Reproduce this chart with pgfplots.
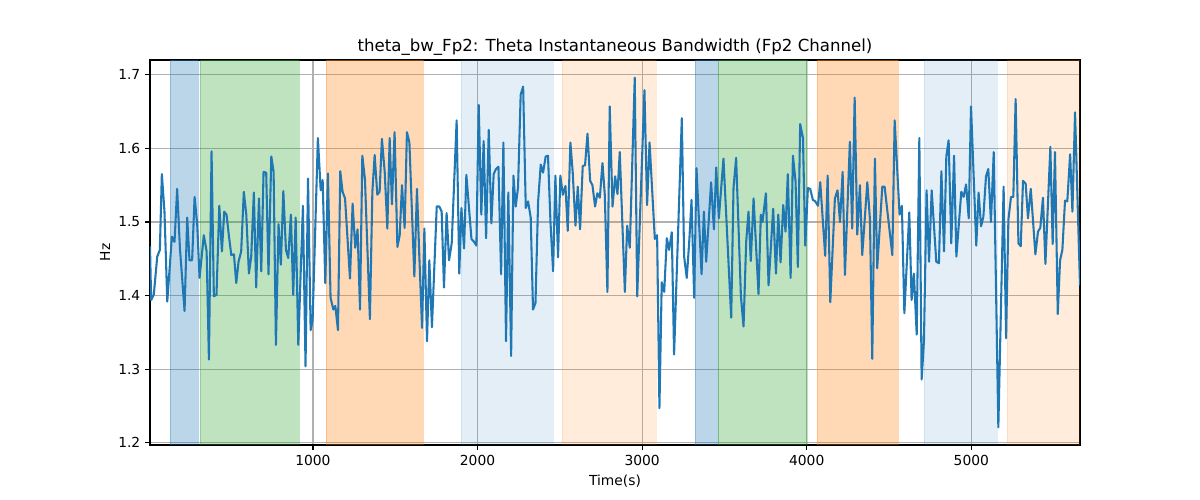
\documentclass[border=0pt]{standalone}
\usepackage{fontspec}
\setmainfont{DejaVu Sans}
\usepackage{pgfplots}
\usepackage{pgfplotstable}
\pgfplotsset{compat=1.18}
\definecolor{tabblue}{HTML}{1F77B4}
\definecolor{tabgreen}{HTML}{2CA02C}
\definecolor{taborange}{HTML}{FF7F0E}
\definecolor{gridgray}{HTML}{B0B0B0}
\pgfplotstableread{
t v
10 1.467
17 1.394
33 1.401
54 1.453
70 1.462
82 1.565
98 1.514
115 1.392
143 1.480
151 1.476
159 1.473
175 1.545
192 1.464
220 1.379
236 1.506
250 1.448
266 1.448
281 1.534
297 1.496
311 1.424
337 1.482
354 1.460
368 1.313
384 1.596
398 1.399
414 1.401
431 1.522
447 1.460
461 1.514
475 1.510
489 1.482
504 1.455
520 1.456
534 1.417
548 1.446
564 1.460
580 1.541
595 1.510
611 1.430
625 1.453
641 1.540
655 1.411
672 1.532
686 1.433
700 1.568
716 1.567
730 1.429
747 1.589
761 1.568
775 1.333
791 1.497
805 1.442
820 1.542
836 1.462
850 1.451
866 1.510
880 1.401
895 1.506
911 1.333
939 1.522
955 1.304
970 1.559
986 1.353
998 1.367
1030 1.614
1047 1.543
1059 1.557
1075 1.417
1091 1.566
1107 1.397
1124 1.381
1136 1.386
1152 1.353
1166 1.569
1180 1.541
1195 1.532
1225 1.423
1241 1.525
1257 1.465
1271 1.490
1286 1.381
1300 1.590
1316 1.558
1346 1.368
1361 1.541
1375 1.591
1391 1.537
1405 1.541
1419 1.613
1436 1.568
1452 1.491
1466 1.614
1480 1.524
1496 1.622
1513 1.466
1527 1.482
1541 1.550
1557 1.492
1571 1.622
1586 1.608
1616 1.426
1632 1.545
1646 1.455
1663 1.356
1677 1.491
1693 1.338
1707 1.448
1723 1.357
1752 1.521
1768 1.521
1782 1.514
1796 1.411
1812 1.512
1827 1.448
1843 1.471
1873 1.638
1889 1.430
1902 1.519
1918 1.464
1932 1.564
1963 1.477
1979 1.473
1993 1.468
2007 1.659
2023 1.510
2037 1.610
2052 1.478
2068 1.625
2084 1.498
2098 1.565
2112 1.572
2127 1.575
2143 1.429
2157 1.608
2173 1.338
2187 1.540
2204 1.318
2218 1.563
2232 1.521
2246 1.547
2262 1.673
2277 1.684
2293 1.519
2307 1.528
2323 1.506
2337 1.381
2352 1.390
2368 1.528
2384 1.578
2398 1.567
2414 1.589
2428 1.590
2443 1.500
2459 1.433
2473 1.563
2489 1.452
2503 1.563
2518 1.537
2534 1.549
2548 1.488
2564 1.608
2578 1.568
2595 1.495
2609 1.548
2623 1.490
2639 1.576
2653 1.577
2668 1.620
2684 1.556
2698 1.550
2714 1.521
2728 1.539
2743 1.533
2759 1.580
2773 1.537
2789 1.405
2803 1.657
2820 1.521
2836 1.562
2850 1.538
2864 1.595
2895 1.405
2909 1.495
2925 1.465
2955 1.696
2970 1.399
3014 1.679
3030 1.523
3045 1.608
3077 1.477
3091 1.482
3105 1.247
3119 1.418
3134 1.405
3150 1.478
3164 1.462
3180 1.486
3194 1.320
3241 1.641
3255 1.453
3271 1.424
3286 1.473
3300 1.530
3316 1.397
3330 1.573
3361 1.429
3375 1.514
3389 1.446
3419 1.554
3436 1.490
3450 1.574
3466 1.505
3494 1.586
3541 1.370
3555 1.546
3571 1.587
3600 1.399
3616 1.358
3632 1.473
3646 1.514
3660 1.447
3677 1.532
3707 1.402
3721 1.510
3731 1.500
3752 1.539
3768 1.414
3796 1.518
3813 1.430
3827 1.510
3841 1.445
3857 1.523
3871 1.487
3885 1.565
3902 1.424
3916 1.590
3932 1.555
3946 1.439
3960 1.633
3977 1.614
3991 1.468
4007 1.546
4021 1.545
4037 1.530
4052 1.528
4068 1.522
4082 1.554
4112 1.454
4127 1.563
4143 1.391
4171 1.532
4187 1.543
4202 1.500
4218 1.568
4232 1.428
4262 1.609
4276 1.491
4291 1.669
4307 1.483
4323 1.550
4337 1.455
4368 1.554
4384 1.503
4398 1.314
4414 1.586
4428 1.437
4459 1.548
4473 1.548
4520 1.455
4534 1.638
4564 1.510
4578 1.522
4593 1.376
4623 1.513
4637 1.394
4651 1.430
4668 1.347
4684 1.614
4698 1.286
4712 1.338
4728 1.543
4743 1.446
4759 1.543
4787 1.446
4803 1.444
4818 1.569
4834 1.460
4848 1.589
4862 1.611
4878 1.471
4895 1.590
4909 1.453
4939 1.541
4953 1.534
4968 1.551
4984 1.505
4998 1.657
5030 1.468
5044 1.540
5059 1.494
5073 1.507
5089 1.562
5103 1.572
5119 1.500
5136 1.595
5164 1.221
5196 1.548
5211 1.342
5225 1.503
5241 1.534
5255 1.534
5269 1.667
5286 1.471
5300 1.467
5314 1.556
5330 1.552
5344 1.505
5361 1.545
5389 1.456
5405 1.487
5419 1.492
5435 1.533
5450 1.443
5480 1.602
5494 1.470
5508 1.595
5525 1.375
5539 1.448
5553 1.462
5569 1.529
5583 1.528
5600 1.592
5614 1.514
5630 1.649
5660 1.414
}\bwdata
\begin{document}
\begin{tikzpicture}
\useasboundingbox (-108.4pt,-39.75pt) rectangle (758.84pt,321.6pt);
\begin{axis}[
  at={(0,0)}, anchor=south west,
  scale only axis, width=672.1pt, height=278.2pt,
  xmin=10, xmax=5660, ymin=1.197, ymax=1.720,
  xtick={1000,2000,3000,4000,5000},
  ytick={1.2,1.3,1.4,1.5,1.6,1.7},
  xtick pos=left, ytick pos=left,
  tick align=outside, major tick length=3.5pt,
  tick style={black, line width=0.8pt},
  axis line style={line width=0.8pt},
  grid=major, grid style={gridgray, line width=0.8pt},
  /pgf/number format/assume math mode=true,
  xticklabel style={font=\fontsize{10}{12}\selectfont, /pgf/number format/1000 sep={}},
  yticklabel style={font=\fontsize{10}{12}\selectfont, /pgf/number format/.cd, fixed, fixed zerofill, precision=1},
  every axis title shift=0pt,
  title={theta\_bw\_Fp2: Theta Instantaneous Bandwidth (Fp2 Channel)},
  title style={font=\fontsize{12}{14}\selectfont, at={(axis description cs:0.5,1.0216)}, anchor=base},
  xlabel={Time(s)},
  xlabel style={font=\fontsize{10}{12}\selectfont, at={(axis description cs:0.5,-0.1064)}, anchor=base},
  ylabel={Hz},
  ylabel style={font=\fontsize{10}{12}\selectfont, at={(axis description cs:-0.0484,0.5)}, anchor=center},
]
% shaded spans
\addplot[forget plot, fill=tabblue, fill opacity=0.3, draw=tabblue, draw opacity=0.3] coordinates {(131,1.197) (302,1.197) (302,1.72) (131,1.72)} -- cycle;
\addplot[forget plot, fill=tabgreen, fill opacity=0.3, draw=tabgreen, draw opacity=0.3] coordinates {(314,1.197) (915,1.197) (915,1.72) (314,1.72)} -- cycle;
\addplot[forget plot, fill=taborange, fill opacity=0.3, draw=taborange, draw opacity=0.3] coordinates {(1079,1.197) (1668,1.197) (1668,1.72) (1079,1.72)} -- cycle;
\addplot[forget plot, fill=tabblue, fill opacity=0.12, draw=tabblue, draw opacity=0.12] coordinates {(1899,1.197) (2458,1.197) (2458,1.72) (1899,1.72)} -- cycle;
\addplot[forget plot, fill=taborange, fill opacity=0.15, draw=taborange, draw opacity=0.15] coordinates {(2513,1.197) (3084,1.197) (3084,1.72) (2513,1.72)} -- cycle;
\addplot[forget plot, fill=tabblue, fill opacity=0.3, draw=tabblue, draw opacity=0.3] coordinates {(3321,1.197) (3461,1.197) (3461,1.72) (3321,1.72)} -- cycle;
\addplot[forget plot, fill=tabgreen, fill opacity=0.3, draw=tabgreen, draw opacity=0.3] coordinates {(3461,1.197) (4001,1.197) (4001,1.72) (3461,1.72)} -- cycle;
\addplot[forget plot, fill=taborange, fill opacity=0.3, draw=taborange, draw opacity=0.3] coordinates {(4062,1.197) (4554,1.197) (4554,1.72) (4062,1.72)} -- cycle;
\addplot[forget plot, fill=tabblue, fill opacity=0.12, draw=tabblue, draw opacity=0.12] coordinates {(4712,1.197) (5156,1.197) (5156,1.72) (4712,1.72)} -- cycle;
\addplot[forget plot, fill=taborange, fill opacity=0.15, draw=taborange, draw opacity=0.15] coordinates {(5216,1.197) (5700,1.197) (5700,1.72) (5216,1.72)} -- cycle;
% series
\addplot[tabblue, line width=1.5pt, line join=round, mark=none] table[x=t, y=v] {\bwdata};
\end{axis}
\end{tikzpicture}
\end{document}
